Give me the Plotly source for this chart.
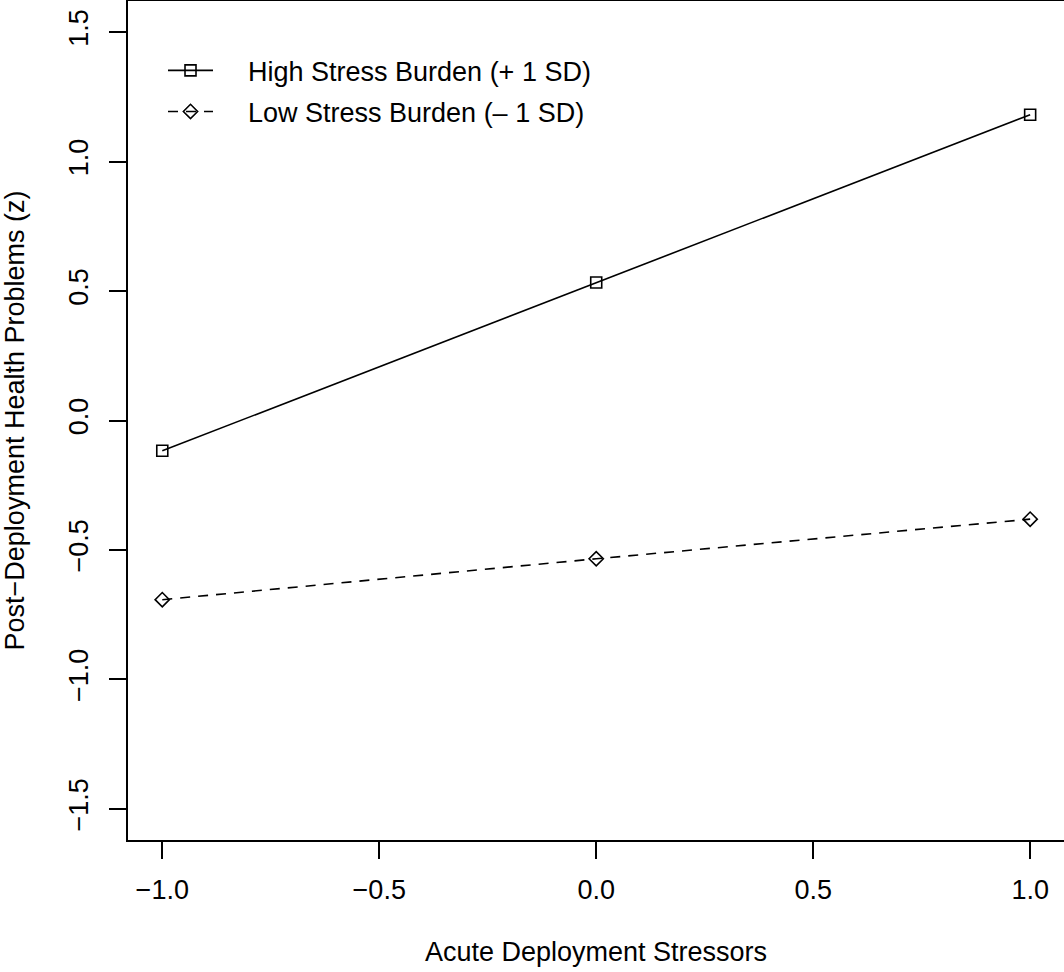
import plotly.graph_objects as go

# Simple slopes: predicted health problems across acute stressor levels
stressor_levels = [-1.0, 0.0, 1.0]
high_burden = [-0.117, 0.533, 1.181]
low_burden = [-0.692, -0.534, -0.381]

x_ticks = [-1.0, -0.5, 0.0, 0.5, 1.0]
x_tick_text = ["\u22121.0", "\u22120.5", "0.0", "0.5", "1.0"]
y_ticks = [-1.5, -1.0, -0.5, 0.0, 0.5, 1.0, 1.5]
y_tick_text = ["\u22121.5", "\u22121.0", "\u22120.5", "0.0", "0.5", "1.0", "1.5"]

FONT = "Liberation Sans, Arial, Helvetica, sans-serif"
FS = 27
PAD = "\u00a0" * 4  # gap between legend key and its label

fig = go.Figure()
fig.add_trace(go.Scatter(
    x=stressor_levels, y=high_burden, mode="lines+markers",
    name=PAD + "High Stress Burden (+ 1 SD)", legendgroup="a",
    line=dict(color="black", width=1.6),
    marker=dict(symbol="square-open", size=11, color="black", line=dict(width=1.6)),
))
fig.add_trace(go.Scatter(
    x=stressor_levels, y=low_burden, mode="lines+markers",
    name=PAD + "Low Stress Burden (\u2013 1 SD)", legendgroup="b",
    line=dict(color="black", width=1.6, dash="10px,8px"),
    marker=dict(symbol="diamond-open", size=11, color="black", line=dict(width=1.6)),
))

fig.update_layout(
    width=1064, height=972,
    margin=dict(l=128, r=0, t=1, b=132),
    paper_bgcolor="white", plot_bgcolor="white",
    font=dict(family=FONT, size=FS, color="black"),
    showlegend=True,
    legend=dict(
        x=0.0374, y=0.946, xanchor="left", yanchor="top",
        bgcolor="rgba(0,0,0,0)", borderwidth=0, itemwidth=45,
        font=dict(size=FS), tracegroupgap=3, traceorder="grouped",
    ),
    xaxis=dict(
        range=[-1.079, 1.078], tickmode="array", tickvals=x_ticks, ticktext=x_tick_text,
        showgrid=False, zeroline=False, showline=True, linecolor="black", linewidth=2,
        mirror=True, ticks="outside", ticklen=17, tickwidth=1.6, tickcolor="black",
        ticklabelstandoff=8, automargin=False,
        title=dict(text="Acute Deployment Stressors", standoff=38, font=dict(size=FS)),
        tickfont=dict(size=FS),
    ),
    yaxis=dict(
        range=[-1.62, 1.62], tickmode="array", tickvals=y_ticks, ticktext=y_tick_text,
        showgrid=False, zeroline=False, showline=True, linecolor="black", linewidth=2,
        mirror=False, ticks="outside", ticklen=17, tickwidth=1.6, tickcolor="black",
        tickangle=-90, tickfont=dict(size=FS), ticklabelstandoff=10, automargin=False,
        title=dict(text="Post\u2212Deployment Health Problems (z)", standoff=32, font=dict(size=FS)),
    ),
)

fig.write_html("out.html")
